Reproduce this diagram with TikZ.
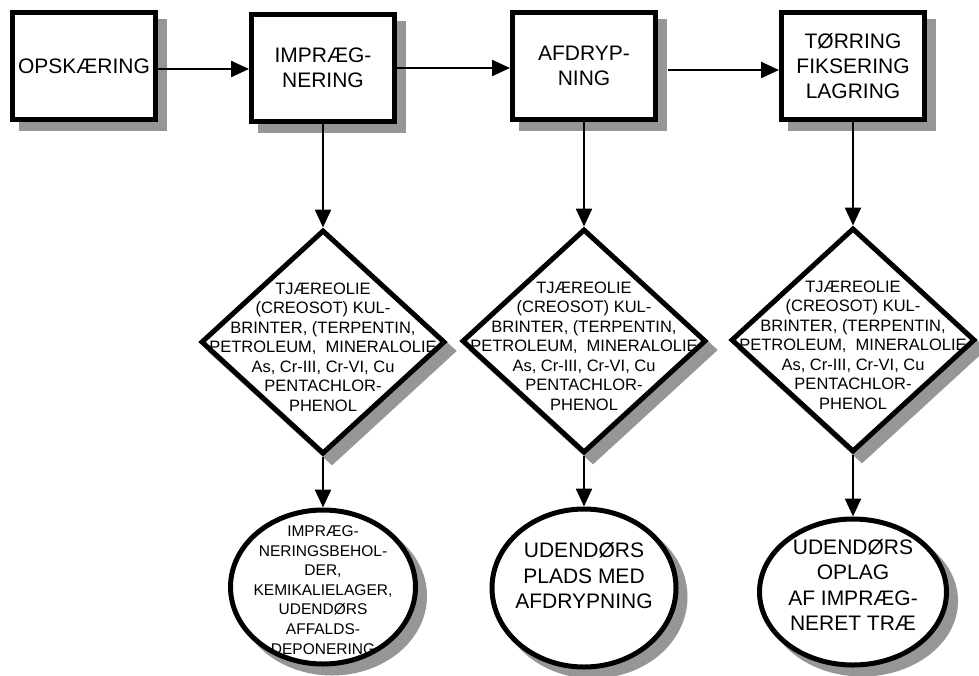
\documentclass[tikz,border=0pt]{standalone}
\usepackage{fontspec}
\setmainfont{Liberation Sans}
\usetikzlibrary{shapes.geometric,shadows,arrows.meta}
\definecolor{shadowgray}{RGB}{150,150,150}
\begin{document}
\begin{tikzpicture}[x=1pt,y=-1pt,
  castshadow/.style={drop shadow={shadow xshift=9pt,shadow yshift=-9pt,
      fill=shadowgray,draw=shadowgray,line width=5pt,opacity=1}},
  stepbox/.style={rectangle,draw,line width=5pt,fill=white,castshadow,
      minimum width=143pt,minimum height=107pt,inner sep=0pt,align=center,
      font=\fontsize{21}{25}\selectfont},
  hazard/.style={diamond,draw,line width=5pt,fill=white,castshadow,
      minimum width=244pt,minimum height=224pt,inner sep=0pt},
  site/.style={ellipse,draw,line width=5pt,fill=white,castshadow,inner sep=0pt},
  dtext/.style={align=center,font=\fontsize{16.5}{19.5}\selectfont,inner sep=0pt},
  etext/.style={align=center,font=\fontsize{21}{25.5}\selectfont,inner sep=0pt},
  esmall/.style={align=center,font=\fontsize{15.5}{19.6}\selectfont,inner sep=0pt},
  conn/.style={line width=2.4pt,-{Triangle[length=18pt,width=16pt]}},
]
\useasboundingbox (0,0) rectangle (979,675);

% process steps
\node[stepbox] (b1) at (84,66)  {OPSKÆRING};
\node[stepbox] (b2) at (323,68) {IMPRÆG-\\NERING};
\node[stepbox] (b3) at (584,66) {AFDRYP-\\NING};
\node[stepbox] (b4) at (853,66) {TØRRING\\FIKSERING\\LAGRING};

% substances
\node[hazard] (d1) at (323,342) {};
\node[hazard] (d2) at (584,341) {};
\node[hazard] (d3) at (853,340) {};
\node[dtext] (d1t) at (323,347) {TJÆREOLIE\\(CREOSOT) KUL-\\BRINTER, (TERPENTIN,\\PETROLEUM, \ MINERALOLIE\\As, Cr-III, Cr-VI, Cu\\PENTACHLOR-\\PHENOL};
\node[dtext] (d2t) at (584,346) {TJÆREOLIE\\(CREOSOT) KUL-\\BRINTER, (TERPENTIN,\\PETROLEUM, \ MINERALOLIE\\As, Cr-III, Cr-VI, Cu\\PENTACHLOR-\\PHENOL};
\node[dtext] (d3t) at (853,345) {TJÆREOLIE\\(CREOSOT) KUL-\\BRINTER, (TERPENTIN,\\PETROLEUM, \ MINERALOLIE\\As, Cr-III, Cr-VI, Cu\\PENTACHLOR-\\PHENOL};

% locations
\node[site,minimum width=185pt,minimum height=154pt] (e1) at (323,587) {};
\node[site,minimum width=184pt,minimum height=158pt] (e2) at (584,588) {};
\node[site,minimum width=187pt,minimum height=146pt] (e3) at (853,592) {};
\node[esmall] (e1t) at (323,590) {IMPRÆG-\\NERINGSBEHOL-\\DER,\\KEMIKALIELAGER,\\UDENDØRS\\AFFALDS-\\DEPONERING};
\node[etext] (e2t) at (584,576) {UDENDØRS\\PLADS MED\\AFDRYPNING};
\node[etext] (e3t) at (853,585) {UDENDØRS\\OPLAG\\AF IMPRÆG-\\NERET TRÆ};

% flow between steps
\draw[conn] ([yshift=-3pt]b1.east) -- ([yshift=-3pt]b1.east -| b2.west);
\draw[conn] (b2.east) -- (b2.east -| b3.west);
\draw[conn] ([xshift=10pt,yshift=-4pt]b3.east) -- ([yshift=-4pt]b3.east -| b4.west);

% downward links
\draw[conn] (b2.south) -- (d1.north);
\draw[conn] (b3.south) -- (d2.north);
\draw[conn] (b4.south) -- (d3.north);
\draw[conn] (d1.south) -- (e1.north);
\draw[conn] (d2.south) -- (e2.north);
\draw[conn] (d3.south) -- (e3.north);
\end{tikzpicture}
\end{document}
